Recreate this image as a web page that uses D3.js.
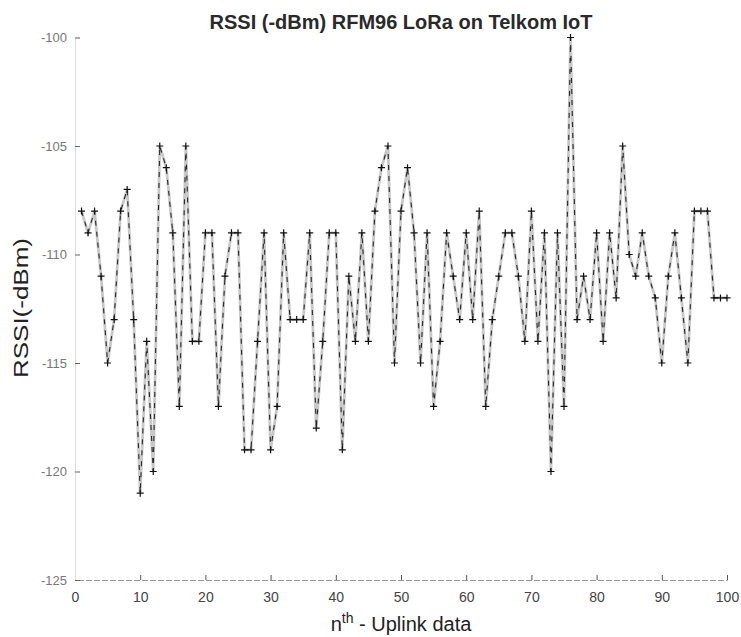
<!DOCTYPE html>
<html>
<head>
<meta charset="utf-8">
<script src="https://cdn.jsdelivr.net/npm/d3@7"></script>
<style>
  body { margin: 0; background: #fff; }
  svg { font-family: "Liberation Sans", Arial, sans-serif; }
</style>
</head>
<body>
<svg width="741" height="637"></svg>
<script>
const width = 741;
const height = 637;

// uplink index 1..100
const uplink = d3.range(1, 101);

// RSSI readings (dBm)
const rssi = [
  -108, -109, -108, -111, -115, -113, -108, -107, -113, -121,
  -114, -120, -105, -106, -109, -117, -105, -114, -114, -109,
  -109, -117, -111, -109, -109, -119, -119, -114, -109, -119,
  -117, -109, -113, -113, -113, -109, -118, -114, -109, -109,
  -119, -111, -114, -109, -114, -108, -106, -105, -115, -108,
  -106, -109, -115, -109, -117, -114, -109, -111, -113, -109,
  -113, -108, -117, -113, -111, -109, -109, -111, -114, -108,
  -114, -109, -120, -109, -117, -100, -113, -111, -113, -109,
  -114, -109, -112, -105, -110, -111, -109, -111, -112, -115,
  -111, -109, -112, -115, -108, -108, -108, -112, -112, -112
];

const xTicks = [0, 10, 20, 30, 40, 50, 60, 70, 80, 90, 100];
const yTicks = [-125, -120, -115, -110, -105, -100];

const data = uplink.map((n, i) => ({ n: n, v: rssi[i] }));

const x = d3.scaleLinear()
    .domain([0, 100])
    .range([75, 727]);

const y = d3.scaleLinear()
    .domain([-125, -100])
    .range([580, 37.5]);

const svg = d3.select("svg")
    .attr("viewBox", [0, 0, width, height]);

// axes, MATLAB style with inward ticks and no box
const xAxis = g => g
    .attr("transform", `translate(0,${y(-125)})`)
    .call(d3.axisBottom(x).tickValues(xTicks).tickSize(-5).tickPadding(12).tickFormat(d => String(d)))
    .call(g => g.select(".domain").attr("stroke", "#999").attr("stroke-dasharray", "6,2"))
    .call(g => g.selectAll(".tick line").attr("stroke", "#555"))
    .call(g => g.selectAll(".tick text").attr("font-size", 14).attr("fill", "#444")
        .attr("font-family", "'Liberation Sans', Arial, sans-serif"));

const yAxis = g => g
    .attr("transform", `translate(${x(0)},0)`)
    .call(d3.axisLeft(y).tickValues(yTicks).tickSize(-5).tickPadding(8).tickFormat(d => String(d)))
    .call(g => g.select(".domain").attr("stroke", "#ddd"))
    .call(g => g.selectAll(".tick line").attr("stroke", "#666"))
    .call(g => g.selectAll(".tick text").attr("font-size", 13).attr("fill", "#777")
        .attr("font-family", "'Liberation Sans', Arial, sans-serif"));

svg.append("g").call(xAxis);
svg.append("g").call(yAxis);

// title
svg.append("text")
    .attr("x", (x(0) + x(100)) / 2)
    .attr("y", 29)
    .attr("text-anchor", "middle")
    .attr("font-size", 20)
    .attr("font-weight", "bold")
    .attr("fill", "#2a2a2a")
    .text("RSSI (-dBm) RFM96 LoRa on Telkom IoT");

// x label with superscript
const xl = svg.append("text")
    .attr("x", (x(0) + x(100)) / 2)
    .attr("y", 631)
    .attr("text-anchor", "middle")
    .attr("font-size", 20)
    .attr("fill", "#222");
xl.append("tspan").text("n");
xl.append("tspan").attr("font-size", 14).attr("dy", -8).text("th");
xl.append("tspan").attr("dy", 8).text(" - Uplink data");

// y label (stretched in the scan)
svg.append("text")
    .attr("transform", "rotate(-90)")
    .attr("x", -308)
    .attr("y", 28)
    .attr("text-anchor", "middle")
    .attr("font-size", 21)
    .attr("textLength", 140)
    .attr("lengthAdjust", "spacingAndGlyphs")
    .attr("fill", "#222")
    .text("RSSI(-dBm)");

const line = d3.line()
    .x(d => x(d.n))
    .y(d => y(d.v));

// scanned look: pale thick line with dark broken core
svg.append("path")
    .datum(data)
    .attr("fill", "none")
    .attr("stroke", "#c8c8c8")
    .attr("stroke-width", 2.8)
    .attr("d", line);

svg.append("path")
    .datum(data)
    .attr("fill", "none")
    .attr("stroke", "#2a2a2a")
    .attr("stroke-width", 1.1)
    .attr("stroke-dasharray", "5,6")
    .attr("d", line);

// + markers
svg.append("g")
    .attr("stroke", "#111")
    .attr("stroke-width", 1.2)
    .selectAll("path")
    .data(data)
    .join("path")
    .attr("d", d => {
        const cx = x(d.n), cy = y(d.v), r = 3.5;
        return `M${cx - r},${cy}H${cx + r}M${cx},${cy - r}V${cy + r}`;
    });
</script>
</body>
</html>
